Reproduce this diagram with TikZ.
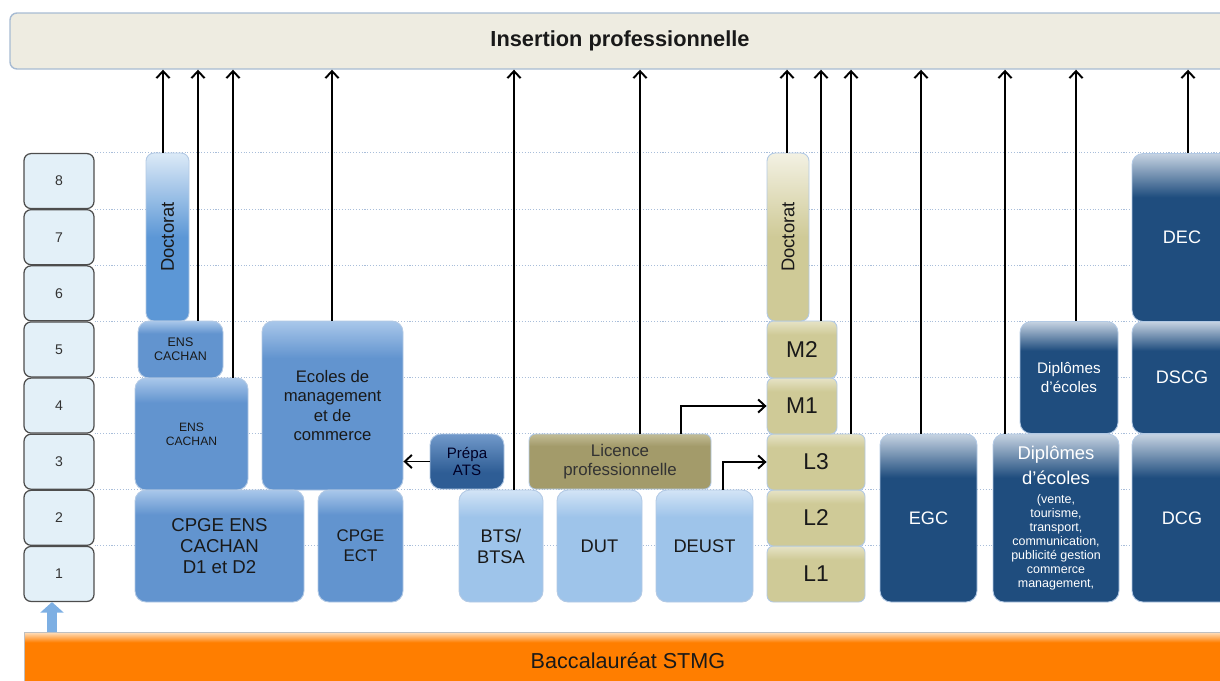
\documentclass[tikz,border=0pt]{standalone}
\usepackage{fontspec}
\setmainfont{Liberation Sans}
\usetikzlibrary{arrows.meta,positioning}

\definecolor{lvlfill}{HTML}{E3F0F8}
\definecolor{lvldraw}{HTML}{4D4D4D}
\definecolor{topfill}{HTML}{EEECE1}
\definecolor{topdraw}{HTML}{A7BBD3}
\definecolor{gridc}{HTML}{A9BEDA}
\definecolor{edgec}{HTML}{B2C9E4}
\definecolor{bmid}{HTML}{6294CF}
\definecolor{bmidl}{HTML}{A9C7EA}
\definecolor{blgt}{HTML}{9EC4EA}
\definecolor{blgtl}{HTML}{D3E4F6}
\definecolor{bdoc}{HTML}{5C97D6}
\definecolor{bdocl}{HTML}{DCEAF7}
\definecolor{bprep}{HTML}{2E5D95}
\definecolor{bprepl}{HTML}{7199CA}
\definecolor{licfill}{HTML}{A39B6A}
\definecolor{licl}{HTML}{C2BC96}
\definecolor{khk}{HTML}{CFCA97}
\definecolor{khkl}{HTML}{E6E3C6}
\definecolor{khkll}{HTML}{F3F1E3}
\definecolor{bdark}{HTML}{1F4D7E}
\definecolor{bdarkl}{HTML}{C6D3E2}
\definecolor{bacor}{HTML}{FF7E00}
\definecolor{bacorl}{HTML}{FFE2C2}
\definecolor{uparr}{HTML}{7DAFE3}

% stops between 25bp (bottom of the box) and 75bp (top of the box)
\pgfdeclareverticalshading{shmid}{100bp}{color(0bp)=(bmid); color(64bp)=(bmid); color(75bp)=(bmidl); color(100bp)=(bmidl)}
\pgfdeclareverticalshading{shlgt}{100bp}{color(0bp)=(blgt); color(63bp)=(blgt); color(75bp)=(blgtl); color(100bp)=(blgtl)}
\pgfdeclareverticalshading{shdoc}{100bp}{color(0bp)=(bdoc); color(50bp)=(bdoc); color(75bp)=(bdocl); color(100bp)=(bdocl)}
\pgfdeclareverticalshading{shprep}{100bp}{color(0bp)=(bprep); color(40bp)=(bprep); color(75bp)=(bprepl); color(100bp)=(bprepl)}
\pgfdeclareverticalshading{shlic}{100bp}{color(0bp)=(licfill); color(64bp)=(licfill); color(75bp)=(licl); color(100bp)=(licl)}
\pgfdeclareverticalshading{shkhk}{100bp}{color(0bp)=(khk); color(63bp)=(khk); color(75bp)=(khkl); color(100bp)=(khkl)}
\pgfdeclareverticalshading{shdoc2}{100bp}{color(0bp)=(khk); color(50bp)=(khk); color(75bp)=(khkll); color(100bp)=(khkll)}
\pgfdeclareverticalshading{shdark}{100bp}{color(0bp)=(bdark); color(62bp)=(bdark); color(75bp)=(bdarkl); color(100bp)=(bdarkl)}
\pgfdeclareverticalshading{shbac}{100bp}{color(0bp)=(bacor); color(66bp)=(bacor); color(75bp)=(bacorl); color(100bp)=(bacorl)}

\begin{document}
\begin{tikzpicture}
	[
		x=0.02cm, y=-0.02cm,
		wh/.style 2 args = {minimum width=#1*0.02cm, minimum height=#2*0.02cm},
		Lv/.style = {rectangle, rounded corners=0.14cm, draw=lvldraw, line width=0.7pt, fill=lvlfill, minimum width=1.4cm, minimum height=1.1cm, text=black!80, font=\fontsize{8}{9}\selectfont},
		B/.style  = {rectangle, rounded corners=0.22cm, draw=edgec, line width=0.5pt, align=center, inner sep=0pt, shade},
		Bm/.style = {B, shading=shmid, text=black!90},
		Bl/.style = {B, shading=shlgt, text=black!90, font=\fontsize{10.4}{12}\selectfont},
		Bp/.style = {B, shading=shprep, text=black!85!blue},
		Bd/.style = {B, shading=shdark, text=white, font=\fontsize{10.3}{12}\selectfont},
		Dc/.style = {B, rounded corners=0.16cm, font=\fontsize{10.5}{12}\selectfont, text=black!90},
		Kh/.style = {B, rounded corners=0.13cm, shading=shkhk, text=black!90, font=\fontsize{13}{15}\selectfont},
		Ol/.style = {B, rounded corners=0.13cm, shading=shlic, text=black!80},
		Tp/.style = {rectangle, rounded corners=0.14cm, draw=topdraw, line width=0.8pt, fill=topfill, font=\bfseries\fontsize{12.4}{14}\selectfont, text=black!90},
		Bc/.style = {rectangle, draw=black!25, line width=0.5pt, shade, shading=shbac, font=\fontsize{12.3}{14}\selectfont, text=black!90},
		gline/.style = {gridc, densely dotted, line width=0.6pt},
		Up/.style = {line width=1.1pt, -{Straight Barb[length=4pt,width=7.5pt]}},
		Blk/.style = {uparr, line width=5.5pt, -{Triangle[length=6pt,width=13pt]}},
	]

	\path[use as bounding box, clip] (0,0) rectangle (1220,680);

	% levels
	\foreach \k in {1,...,8}
	\node[Lv] (lv\k) at (59, {602-(\k-0.5)*56.125}) {\k};

	\foreach \k in {1,...,8}
	\draw[gline] (lv\k.north east) -- (lv\k.north -| 1220,0);

	% outer bars
	\node[Tp, wh={1220}{56}] (top) at (620,41) {Insertion professionnelle};
	\node[Bc, wh={1208}{58}] (bac) at (628,661) {Baccalauréat STMG};

	% ENS and ecoles
	\node[Dc, shading=shdoc, wh={43}{168}] (doc1) at (167.5,237) {\rotatebox{90}{Doctorat}};
	\node[Bm, wh={85}{57}, font=\fontsize{7.1}{8.1}\selectfont] (ens5) at (180.5,349.5) {ENS\\CACHAN};
	\node[Bm, wh={113}{112}, font=\fontsize{6.9}{7.9}\selectfont] (ens34) at (191.5,434) {ENS\\CACHAN};
	\node[Bm, wh={141}{169}, font=\fontsize{9.5}{11}\selectfont] (ecoles) at (332.5,405.5) {Ecoles de\\management\\et de\\commerce};
	\node[Bm, wh={169}{112}, font=\fontsize{10.6}{12}\selectfont] (cpge) at (219.5,546) {CPGE ENS\\CACHAN\\D1 et D2};
	\node[Bm, wh={85}{112}, font=\fontsize{9.6}{11.3}\selectfont] (ect) at (360.5,546) {CPGE\\ECT};
	\node[Bp, wh={74}{55}, font=\fontsize{8.6}{10.2}\selectfont] (prepa) at (467,461.5) {Prépa\\ATS};

	% short courses
	\node[Bl, wh={84}{112}] (bts) at (501,546) {BTS/\\BTSA};
	\node[Bl, wh={85}{112}] (dut) at (599.5,546) {DUT};
	\node[Bl, wh={97}{112}] (deust) at (704.5,546) {DEUST};
	\node[Ol, wh={182}{55}, font=\fontsize{9.6}{11}\selectfont] (licpro) at (620,461.5) {Licence\\professionnelle};

	% university
	\node[Kh, wh={98}{56}] (l1) at (816,574) {L1};
	\node[Kh, wh={98}{56}] (l2) at (816,518) {L2};
	\node[Kh, wh={98}{56}] (l3) at (816,462) {L3};
	\node[Kh, wh={70}{56}] (m1) at (802,406) {M1};
	\node[Kh, wh={70}{57}] (m2) at (802,349.5) {M2};
	\node[Dc, shading=shdoc2, wh={42}{168}] (doc2) at (788,237) {\rotatebox{90}{Doctorat}};

	% schools and accounting
	\node[Bd, wh={97}{168}] (egc) at (928.5,518) {EGC};
	\node[Bd, wh={126}{168}, font=\fontsize{7.1}{8}\selectfont] (diplo) at (1056,518)
		{\fontsize{10.5}{12}\selectfont Diplômes\\[3.5pt]\fontsize{10.5}{12}\selectfont d’écoles\\[2.5pt](vente,\\tourisme,\\transport,\\communication,\\publicité gestion\\commerce\\management,};
	\node[Bd, wh={98}{112}, font=\fontsize{8.7}{10.4}\selectfont] (diplu) at (1069,377.5) {Diplômes\\d’écoles};
	\node[Bd, wh={100}{168}] (dec) at (1182,237.5) {DEC};
	\node[Bd, wh={100}{112}] (dscg) at (1182,377.5) {DSCG};
	\node[Bd, wh={100}{168}] (dcg) at (1182,518) {DCG};

	\foreach \n/\x in {doc1/163,ens5/198,ens34/233,ecoles/332,bts/514,licpro/640,doc2/787,m2/821,l3/851,egc/921,diplo/1005,diplu/1076,dec/1188}
	\draw[Up] (\n.north -| \x,0) -- (top.south -| \x,0);

	\draw[Up] (prepa.west) -- (prepa.west -| ecoles.east);
	\draw[Up] (licpro.north -| 681,0) |- (m1.west);
	\draw[Up] (deust.north -| 723,0) |- (l3.west);

	\draw[Blk] (bac.north -| 52,0) -- (lv1.south -| 52,0);

\end{tikzpicture}
\end{document}
